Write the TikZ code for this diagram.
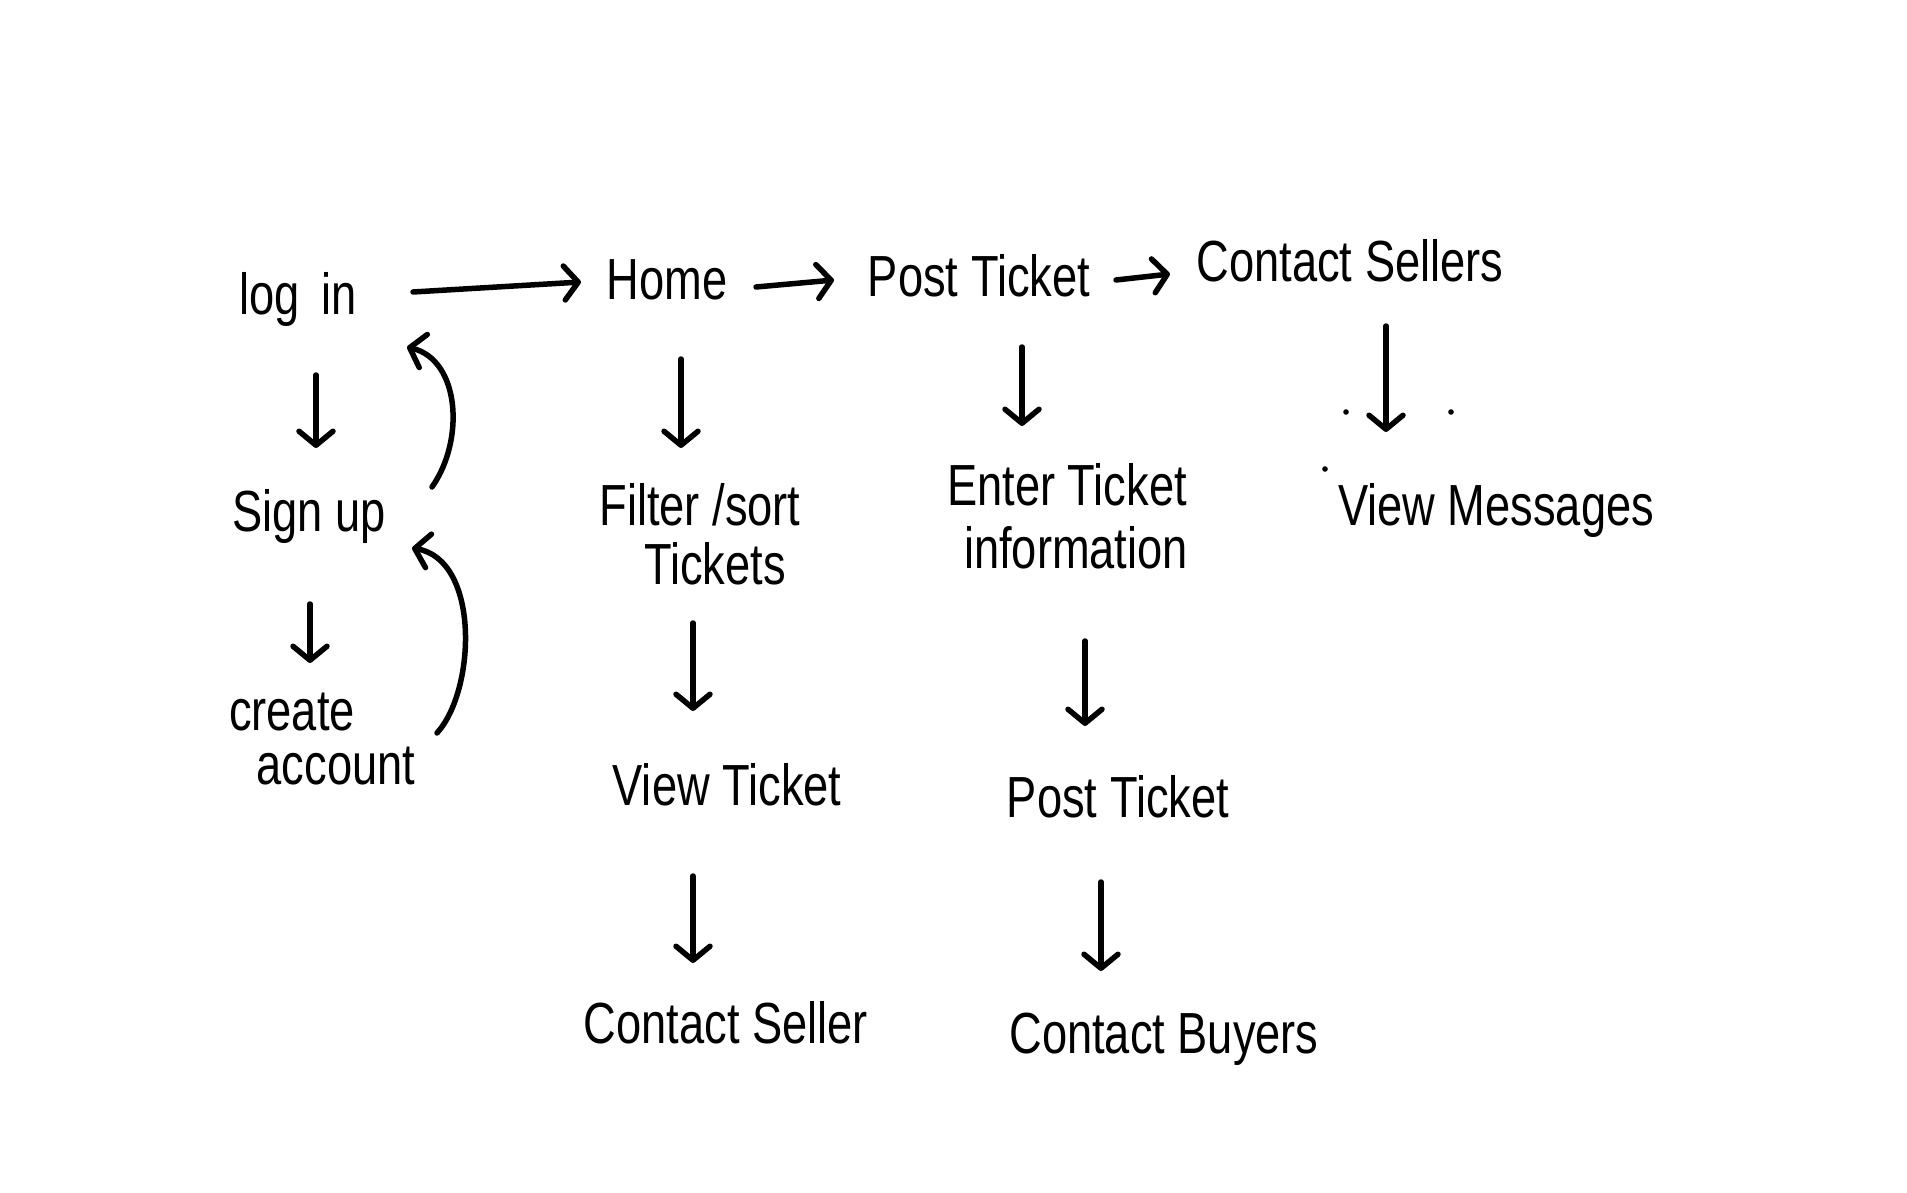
\documentclass[tikz,border=0pt]{standalone}
\usepackage{fontspec}
\setmainfont[FakeStretch=0.78]{Liberation Sans}
\usetikzlibrary{arrows.meta}
\begin{document}
\begin{tikzpicture}[x=1pt,y=-1pt,
  lbl/.style={anchor=base,inner sep=0pt,text height=42pt,text depth=12pt,
    font=\fontsize{58}{64}\selectfont},
  arr/.style={line width=5.5pt,line cap=round,
    -{Straight Barb[round,length=14pt,width=34pt]}},
  dotmark/.style={fill=black}]
\useasboundingbox[fill=white] (0,0) rectangle (1907,1193);
% nodes
\node[lbl] (login) at (298,314) {log\hspace{22pt}in};
\node[lbl] (home) at (667,299) {Home};
\node[lbl] (post) at (979,296) {Post Ticket};
\node[lbl] (csell) at (1350,282) {Contact Sellers};
\node[lbl] (signup) at (309,531) {Sign up};
\node[lbl] (create1) at (292,730) {create};
\node[lbl] (create2) at (336,784) {account};
\node[lbl] (filter1) at (700,525) {Filter /sort};
\node[lbl] (filter2) at (715,584) {Tickets};
\node[lbl] (enter1) at (1067,505) {Enter Ticket};
\node[lbl] (enter2) at (1076,568) {information};
\node[lbl] (viewmsg) at (1496,525) {View Messages};
\node[lbl] (viewticket) at (727,805) {View Ticket};
\node[lbl] (post2) at (1118,817) {Post Ticket};
\node[lbl] (cseller) at (726,1043) {Contact Seller};
\node[lbl] (cbuyers) at (1164,1053) {Contact Buyers};
% horizontal connectors
\draw[arr] ([shift={(115,-22)}]login.base) -- ([shift={(-86,-17)}]home.base);
\draw[arr] ([shift={(89,-12)}]home.base) -- ([shift={(-145,-16)}]post.base);
\draw[arr] ([shift={(137,-16)}]post.base) -- ([shift={(-180,-8)}]csell.base);
% vertical connectors
\draw[arr] ([shift={(18,61)}]login.base) -- ([shift={(7,-83)}]signup.base);
\draw[arr] ([shift={(1,73)}]signup.base) -- ([shift={(18,-67)}]create1.base);
\draw[arr] ([shift={(14,60)}]home.base) -- ([shift={(-19,-77)}]filter1.base);
\draw[arr] ([shift={(-22,39)}]filter2.base) -- ([shift={(-34,-94)}]viewticket.base);
\draw[arr] ([shift={(-34,71)}]viewticket.base) -- ([shift={(-33,-80)}]cseller.base);
\draw[arr] ([shift={(43,51)}]post.base) -- ([shift={(-45,-79)}]enter1.base);
\draw[arr] ([shift={(9,73)}]enter2.base) -- ([shift={(-33,-91)}]post2.base);
\draw[arr] ([shift={(-17,65)}]post2.base) -- ([shift={(-63,-82)}]cbuyers.base);
\draw[arr] ([shift={(36,44)}]csell.base) -- ([shift={(-110,-93)}]viewmsg.base);
% curved return connectors
\draw[arr] ([shift={(123,-44)}]signup.base) .. controls +(33,-47) and +(53,13) .. ([shift={(109,33)}]login.base);
\draw[arr] ([shift={(101,-51)}]create2.base) .. controls +(39,-43) and +(68,12) .. ([shift={(103,17)}]signup.base);
% stray dots
\fill[dotmark] (1346,412) circle (2.8);
\fill[dotmark] (1451,412) circle (2.8);
\fill[dotmark] (1325,469) circle (2.8);
\end{tikzpicture}
\end{document}
